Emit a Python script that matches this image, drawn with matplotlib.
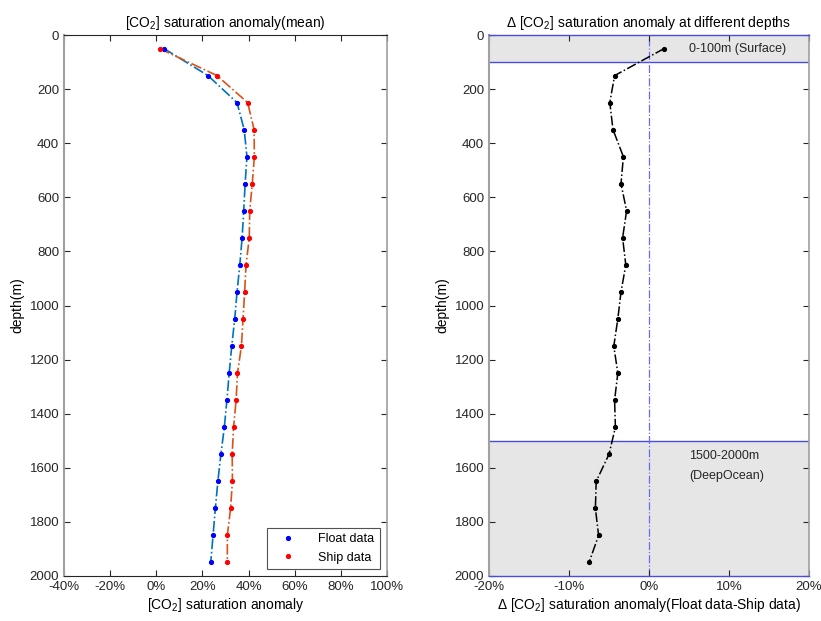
import matplotlib
matplotlib.use("Agg")
import matplotlib.pyplot as plt
from matplotlib.ticker import FuncFormatter

plt.rcParams['font.family'] = ['Liberation Sans', 'DejaVu Sans']
plt.rcParams['mathtext.default'] = 'regular'
plt.rcParams['font.size'] = 9.5

# depths of the mean profiles (m)
depth = [50, 150, 250, 350, 450, 550, 650, 750, 850, 950,
         1050, 1150, 1250, 1350, 1450, 1550, 1650, 1750, 1850, 1950]

# saturation anomaly (%)
float_data = [3.3, 22.4, 35.0, 38.1, 39.3, 38.5, 37.9, 37.2, 36.2, 35.0,
              34.0, 32.7, 31.6, 30.6, 29.5, 28.0, 26.7, 25.6, 24.6, 23.6]
ship_data = [1.4, 26.3, 39.6, 42.4, 42.5, 41.6, 40.5, 40.3, 38.9, 38.3,
             37.6, 36.9, 35.2, 34.6, 33.5, 32.9, 33.0, 32.2, 30.8, 30.8]

# float minus ship (%)
diff_data = [1.9, -4.3, -4.9, -4.5, -3.2, -3.5, -2.8, -3.3, -2.9, -3.5,
             -3.9, -4.4, -3.9, -4.3, -4.2, -5.0, -6.6, -6.7, -6.3, -7.5]

pct = FuncFormatter(lambda v, p: f"{v:.0f}%")

fig = plt.figure(figsize=(8.21, 6.21), dpi=100)
W, H = 821, 621
ax1 = fig.add_axes([64 / W, (H - 576) / H, (387 - 64) / W, (576 - 35) / H])
ax2 = fig.add_axes([489 / W, (H - 576) / H, (809 - 489) / W, (576 - 35) / H])


def style_axes(ax):
    ax.tick_params(direction='in', top=True, right=True, length=4,
                   width=0.8, color='#262626', labelcolor='#262626')
    for s in ['top', 'bottom']:
        ax.spines[s].set_color('#262626')
        ax.spines[s].set_linewidth(0.8)
    for s in ['left', 'right']:
        ax.spines[s].set_color('#a0a0a0')
        ax.spines[s].set_linewidth(1.2)
    ax.spines['left'].set_linewidth(1.5)


# left panel
ax1.plot(float_data, depth, color='#0072BD', ls='-.', lw=1.2)
ax1.plot(ship_data, depth, color='#D95319', ls='-.', lw=1.2)
ax1.plot(float_data, depth, 'b.', ms=5.5, label='Float data')
ax1.plot(ship_data, depth, 'r.', ms=5.5, label='Ship data')
ax1.set_xlim(-40, 100)
ax1.set_ylim(2000, 0)
ax1.set_xticks(range(-40, 101, 20))
ax1.set_yticks(range(0, 2001, 200))
ax1.xaxis.set_major_formatter(pct)
ax1.set_xlabel('[CO$_2$] saturation anomaly', fontsize=10, labelpad=2)
ax1.set_ylabel('depth(m)', fontsize=10)
ax1.set_title('[CO$_2$] saturation anomaly(mean)', fontsize=10, pad=6)
leg = ax1.legend(loc='lower right', fancybox=False, edgecolor='#262626',
                 fontsize=9, borderaxespad=0.6, handletextpad=1.2,
                 handlelength=2.5, borderpad=0.4)
leg.get_frame().set_linewidth(0.8)
style_axes(ax1)

# right panel
ax2.axhspan(0, 100, facecolor='#e6e6e6', lw=0, zorder=0)
ax2.axhspan(1500, 2000, facecolor='#e6e6e6', lw=0, zorder=0)
for yl in [100, 1500]:
    ax2.axhline(yl, color='#4a4ae6', lw=1.0, zorder=1)
ax2.axvline(0, color='#6a6aff', ls='-.', lw=0.9, zorder=1)
ax2.plot(diff_data, depth, 'k.-.', ms=5.5, lw=1.1, zorder=3)
ax2.text(5, 52, '0-100m (Surface)', fontsize=9, va='center', ha='left', color='#262626')
ax2.text(5, 1555, '1500-2000m', fontsize=9, va='center', ha='left', color='#262626')
ax2.text(5, 1630, '(DeepOcean)', fontsize=9, va='center', ha='left', color='#262626')
ax2.set_xlim(-20, 20)
ax2.set_ylim(2000, 0)
ax2.set_xticks(range(-20, 21, 10))
ax2.set_yticks(range(0, 2001, 200))
ax2.xaxis.set_major_formatter(pct)
ax2.set_xlabel('Δ [CO$_2$] saturation anomaly(Float data-Ship data)', fontsize=10, labelpad=2)
ax2.set_ylabel('depth(m)', fontsize=10)
ax2.set_title('Δ [CO$_2$] saturation anomaly at different depths', fontsize=10, pad=6)
style_axes(ax2)
for s in ['top', 'bottom']:
    ax2.spines[s].set_color('#4a4ae6')
    ax2.spines[s].set_linewidth(1.0)

fig.savefig('out.png', dpi=100)
